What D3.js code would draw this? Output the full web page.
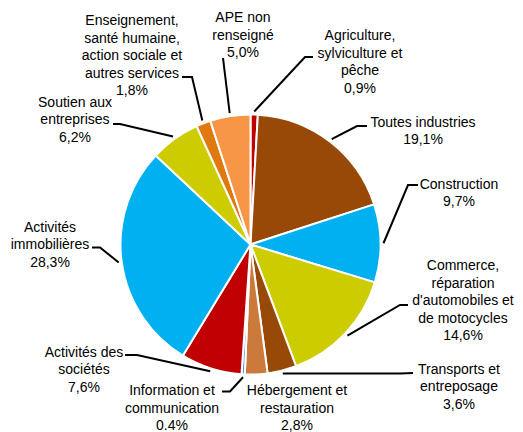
<!DOCTYPE html>
<html>
<head>
<meta charset="utf-8">
<script src="https://cdn.jsdelivr.net/npm/d3@7"></script>
<style>
  body { margin: 0; background: #fff; }
  text { font-family: "Liberation Sans", Arial, sans-serif; font-size: 14px; fill: #000; }
</style>
</head>
<body>
<div id="body"></div>
<script>
// secteurs, in pie order (clockwise from 12 o'clock)
const categories = [
  ["Agriculture,", "sylviculture et", "pêche"],
  ["Toutes industries"],
  ["Construction"],
  ["Commerce,", "réparation", "d'automobiles et", "de motocycles"],
  ["Transports et", "entreposage"],
  ["Hébergement et", "restauration"],
  ["Information et", "communication"],
  ["Activités des", "sociétés"],
  ["Activités", "immobilières"],
  ["Soutien aux", "entreprises"],
  ["Enseignement,", "santé humaine,", "action sociale et", "autres services"],
  ["APE non", "renseigné"]
];
const values = [0.9, 19.1, 9.7, 14.6, 3.6, 2.8, 0.4, 7.6, 28.3, 6.2, 1.8, 5.0];
const pctText = ["0,9%", "19,1%", "9,7%", "14,6%", "3,6%", "2,8%", "0.4%", "7,6%", "28,3%", "6,2%", "1,8%", "5,0%"];
const colors = ["#C00000", "#984807", "#00B0F0", "#CCCC00", "#984807", "#CB7A3C",
                "#4F8FD9", "#C00000", "#00B0F0", "#CCCC00", "#E07A10", "#F79646"];

// label layout: text centre x, first line centre y, leader end, leader elbow
const labelX = [360, 423, 459, 463, 459, 297, 172, 84, 50, 75, 132, 243];
const labelY = [35, 121.5, 183.5, 265, 368.5, 390, 390, 351.5, 226.5, 101.5, 20, 17];
const leaderEnd = [[313, 57], [367, 126], [418, 185], [408, 305], [413, 373], null,
                   [222, 391.5], [125, 355], [92, 247.5], [113, 124], [182, 77], [223, 58]];
const leaderElbow = [[305, 57], [357, 126], [408, 185], [400, 305], [400, 373.5], null,
                     [230, 391.5], [137, 355], [100, 247.5], [120, 124], [192, 77], [223, 58]];

let width = 523,
  height = 432,
  cx = 250.5,
  cy = 244.5,
  radius = 130,
  lineH = 17.5;

let svg = d3.select("#body")
  .append("svg")
  .attr("width", width)
  .attr("height", height);

let pie = d3.pie().sort(null).value((d) => d);
let arcs = pie(values);

let arc = d3.arc().innerRadius(0).outerRadius(radius);
let edge = d3.arc().innerRadius(radius + 3).outerRadius(radius + 3);

let g = svg.append("g").attr("transform", "translate(" + cx + "," + cy + ")");

g.selectAll("path.slice")
  .data(arcs)
  .enter()
  .append("path")
  .attr("class", "slice")
  .attr("d", arc)
  .attr("fill", (d, i) => colors[i])
  .attr("stroke", "#fff")
  .attr("stroke-width", 2)
  .attr("stroke-linejoin", "round");

// leader lines
svg.selectAll("polyline.leader")
  .data(arcs.filter((d, i) => leaderEnd[i]))
  .enter()
  .append("polyline")
  .attr("class", "leader")
  .attr("fill", "none")
  .attr("stroke", "#000")
  .attr("stroke-width", 2)
  .attr("points", function(d) {
    let i = d.index;
    let c = edge.centroid(d);
    let p0 = [cx + c[0], cy + c[1]];
    return [p0, leaderElbow[i], leaderEnd[i]].map((p) => p.join(",")).join(" ");
  });

// labels
let labels = svg.selectAll("text.lbl")
  .data(arcs)
  .enter()
  .append("text")
  .attr("class", "lbl")
  .attr("text-anchor", "middle");

labels.each(function(d, i) {
  let lines = categories[i].concat([pctText[i]]);
  let t = d3.select(this);
  lines.forEach(function(s, k) {
    t.append("tspan")
      .attr("x", labelX[i])
      .attr("y", labelY[i] + k * lineH + 5)
      .text(s);
  });
});
</script>
</body>
</html>
